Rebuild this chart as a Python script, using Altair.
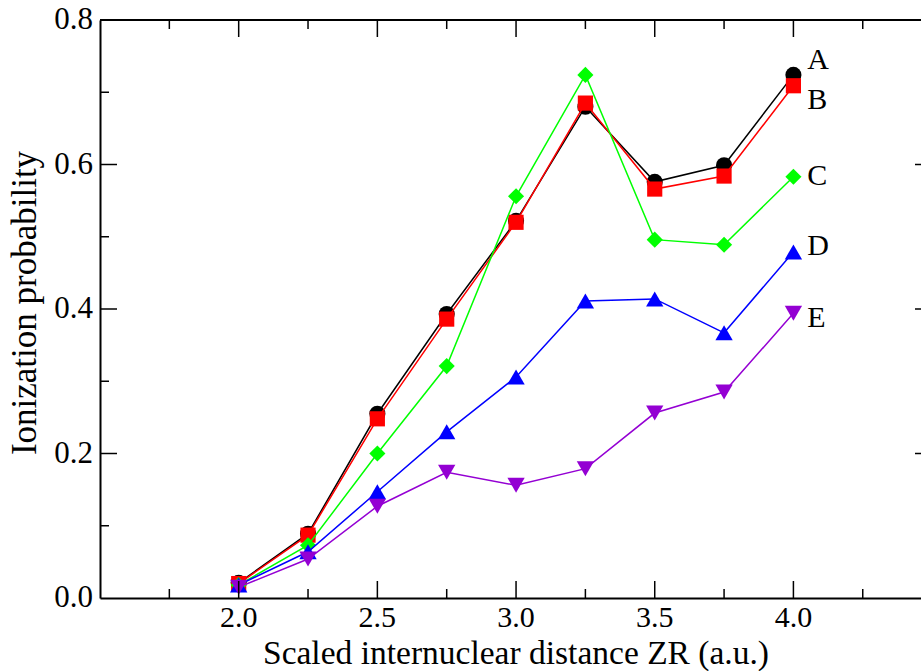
import altair as alt
import pandas as pd

# ---- data ----
zr = [2.0, 2.25, 2.5, 2.75, 3.0, 3.25, 3.5, 3.75, 4.0]
series_names = ["A", "B", "C", "D", "E"]
prob_A = [0.021, 0.089, 0.255, 0.393, 0.522, 0.680, 0.576, 0.599, 0.724]
prob_B = [0.020, 0.087, 0.248, 0.386, 0.520, 0.685, 0.566, 0.584, 0.709]
prob_C = [0.018, 0.073, 0.200, 0.321, 0.556, 0.724, 0.496, 0.489, 0.583]
prob_D = [0.018, 0.064, 0.147, 0.230, 0.306, 0.411, 0.414, 0.367, 0.479]
prob_E = [0.015, 0.054, 0.127, 0.174, 0.156, 0.179, 0.256, 0.285, 0.394]
series_values = [prob_A, prob_B, prob_C, prob_D, prob_E]

colors = ["#000000", "#ff0000", "#00ff00", "#0000ff", "#9400d3"]
shapes = ["circle", "square", "diamond", "triangle-up", "triangle-down"]
sizes = [260, 230, 260, 300, 300]

label_x = [4.05, 4.05, 4.05, 4.05, 4.05]
label_y = [0.745, 0.689, 0.584, 0.487, 0.388]

x_labels = [2.0, 2.5, 3.0, 3.5, 4.0]
x_major = [2.0, 2.5, 3.0, 3.5, 4.0]
x_minor = [1.75, 2.25, 2.75, 3.25, 3.75, 4.25]
y_labels = [0.0, 0.2, 0.4, 0.6, 0.8]
y_major = [0.2, 0.4, 0.6]
y_minor = [0.1, 0.3, 0.5, 0.7]

x_title = "Scaled internuclear distance ZR (a.u.)"
y_title = "Ionization probability"

# plot area runs past the right edge of the page (x = 4.5 lies just outside)
W, H = 821, 578
HIDDEN = 11  # pixels of the plot area beyond the page's right edge
FONT = "Liberation Serif"
MAJ, MIN = 17, 9

xscale = alt.Scale(domain=[1.5, 4.46], nice=False, zero=False)
yscale = alt.Scale(domain=[0.0, 0.8], nice=False, zero=False)
common = dict(ticks=False, labels=False, domain=True, grid=False, title=None,
              domainColor="black", domainWidth=2)
xaxis = alt.Axis(**common)
yaxis = alt.Axis(**common)

X = lambda: alt.X("x:Q", scale=xscale, axis=xaxis)
Y = lambda: alt.Y("y:Q", scale=yscale, axis=yaxis)

layers = []
for name, vals, col, shp, sz in zip(series_names, series_values, colors, shapes, sizes):
    df = pd.DataFrame({"x": zr, "y": vals})
    base = alt.Chart(df)
    layers.append(base.mark_line(color=col, strokeWidth=1.5).encode(x=X(), y=Y()))
    layers.append(base.mark_point(shape=shp, filled=True, color=col, size=sz, opacity=1)
                  .encode(x=X(), y=Y()))

# series labels A..E
lab_df = pd.DataFrame({"x": label_x, "y": label_y, "t": series_names})
layers.append(alt.Chart(lab_df).mark_text(align="left", baseline="middle", font=FONT,
                                          fontSize=30, color="black")
              .encode(x=X(), y=Y(), text="t:N"))

# tick labels
xl_df = pd.DataFrame({"x": x_labels, "t": [f"{v:.1f}" for v in x_labels]})
layers.append(alt.Chart(xl_df).mark_text(align="center", baseline="alphabetic", font=FONT,
                                         fontSize=30, color="black")
              .encode(x=X(), y=alt.value(H + 29), text="t:N"))
yl_df = pd.DataFrame({"y": y_labels, "t": [f"{v:.1f}" for v in y_labels]})
layers.append(alt.Chart(yl_df).mark_text(align="right", baseline="middle", font=FONT,
                                         fontSize=31, color="black")
              .encode(y=Y(), x=alt.value(-7), text="t:N"))

# axis titles
layers.append(alt.Chart(pd.DataFrame({"t": [x_title]})).mark_text(
    align="center", baseline="alphabetic", font=FONT, fontSize=33.5, color="black")
    .encode(x=alt.value(416), y=alt.value(H + 66), text="t:N"))
layers.append(alt.Chart(pd.DataFrame({"t": [y_title]})).mark_text(
    align="center", baseline="middle", font=FONT, fontSize=35, color="black", angle=270)
    .encode(x=alt.value(-75), y=alt.value(283), text="t:N"))

def xticks(vals, length):
    d = pd.DataFrame({"x": vals})
    c = alt.Chart(d)
    bottom = c.mark_rule(color="black", strokeWidth=1.5).encode(
        x=X(), y=alt.value(H), y2=alt.value(H - length))
    top = c.mark_rule(color="black", strokeWidth=1.5).encode(
        x=X(), y=alt.value(0), y2=alt.value(length))
    return [bottom, top]

def yticks(vals, length):
    d = pd.DataFrame({"y": vals})
    c = alt.Chart(d)
    left = c.mark_rule(color="black", strokeWidth=1.5).encode(
        y=Y(), x=alt.value(0), x2=alt.value(length))
    right = c.mark_rule(color="black", strokeWidth=1.5).encode(
        y=Y(), x=alt.value(W + HIDDEN), x2=alt.value(W + HIDDEN - length))
    return [left, right]

layers += xticks(x_major, MAJ) + xticks(x_minor, MIN) + yticks(y_major, MAJ) + yticks(y_minor, MIN)

# top frame line
layers.append(alt.Chart(pd.DataFrame({"x": [1.5]})).mark_rule(color="black", strokeWidth=2)
              .encode(x=alt.value(0), x2=alt.value(W + HIDDEN), y=alt.value(0)))

chart = alt.layer(*layers).properties(
    width=W, height=H,
    autosize=alt.AutoSizeParams(type="none"),
    padding={"left": 100, "top": 20, "right": 0, "bottom": 73},
    background="white",
).configure_view(stroke=None)

chart.save("out.html", embed_options={"renderer": "svg", "actions": False})
